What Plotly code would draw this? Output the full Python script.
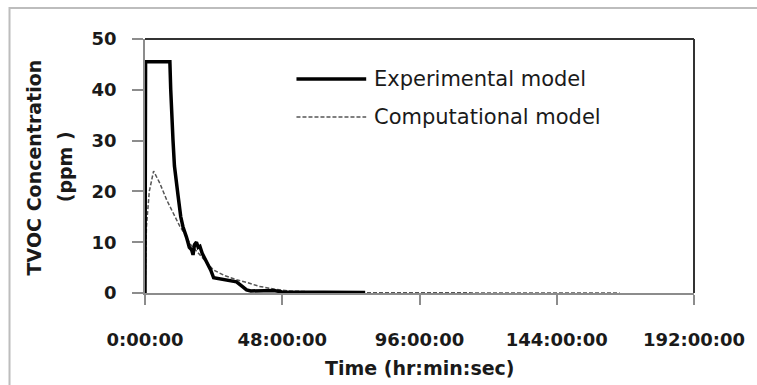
import plotly.graph_objects as go

# ---- data (time in hours, concentration in ppm) ----
exp_time = [0, 0.2, 4, 8.7, 9.0, 9.3, 9.8, 10.3, 11.0, 11.6, 12.5, 13.3, 14.5, 15.5, 16.3,
            16.8, 17.3, 18.0, 18.6, 19.2, 20.0, 21.5, 23.0, 24.0, 26.0, 28.0, 30.0, 32.0,
            34.0, 35.5, 37.0, 42.0, 45.0, 48.0, 55.0, 77.0]
exp_conc = [0, 45.5, 45.5, 45.5, 40, 35, 30, 25, 21, 19, 15, 13, 11, 9, 8.5,
            7.5, 9.5, 10, 9, 9.2, 7.8, 6.2, 4.5, 3.0, 2.8, 2.6, 2.3, 2.2,
            1.3, 0.6, 0.4, 0.4, 0.5, 0.2, 0.15, 0.1]

comp_time = [0, 0.5, 1.5, 3.0, 5.2, 7.6, 9.9, 12.2, 13.5, 16, 20, 24, 28, 32, 36, 40, 45,
             50, 60, 80, 120, 166]
comp_conc = [0, 13, 20, 24, 21.6, 18.3, 15.7, 13.1, 12, 9.5, 7, 4.5, 3.4, 2.6, 2.0, 1.3, 0.8,
             0.4, 0.2, 0.05, 0.02, 0]

x_tickvals = [0, 48, 96, 144, 192]
x_ticktext = ["0:00:00", "48:00:00", "96:00:00", "144:00:00", "192:00:00"]
y_tickvals = [0, 10, 20, 30, 40, 50]

series_names = ["Experimental model", "Computational model"]

FONT = "DejaVu Sans"
TXT = "#1a1a1a"
AX = "#8c8c8c"

fig = go.Figure()
fig.add_trace(go.Scatter(x=comp_time, y=comp_conc, mode="lines", name=series_names[1],
                         line=dict(color="#555555", width=1.5, dash="4px,2px")))
fig.add_trace(go.Scatter(x=exp_time, y=exp_conc, mode="lines", name=series_names[0],
                         line=dict(color="#000000", width=3.5)))

fig.update_layout(
    width=757, height=385,
    margin=dict(l=145, r=61, t=39, b=92),
    paper_bgcolor="white", plot_bgcolor="white",
    showlegend=False,
    xaxis=dict(range=[0, 192], tickvals=x_tickvals, ticktext=x_ticktext,
               showgrid=False, zeroline=False, showline=True, linecolor=AX, linewidth=1.5,
               ticks="outside", ticklen=10, tickcolor=AX, tickwidth=1.5,
               ticklabelstandoff=20,
               tickfont=dict(family=FONT, size=18, color=TXT, weight="bold")),
    yaxis=dict(range=[0, 50], tickvals=y_tickvals,
               showgrid=False, zeroline=False, showline=True, linecolor=AX, linewidth=1.5,
               ticks="outside", ticklen=11, tickcolor=AX, tickwidth=1.5,
               ticklabelstandoff=12,
               tickfont=dict(family=FONT, size=18, color=TXT, weight="bold")),
)

# plot-area top/right border (dark) and outer chart border (light gray)
fig.add_shape(type="line", xref="paper", yref="paper", x0=0, x1=1, y0=1, y1=1,
              line=dict(color="#333333", width=2))
fig.add_shape(type="line", xref="paper", yref="paper", x0=1, x1=1, y0=0, y1=1,
              line=dict(color="#333333", width=2))
fig.add_shape(type="rect", xref="paper", yref="paper", x0=-0.2468, x1=1.13, y0=-0.40, y1=1.122,
              line=dict(color="#bdbdbd", width=2), layer="below")

# legend (manual, to match long sample lines)
fig.add_shape(type="line", xref="paper", yref="paper", x0=0.2759, x1=0.4029, y0=0.8425, y1=0.8425,
              line=dict(color="#000000", width=3.5))
fig.add_shape(type="line", xref="paper", yref="paper", x0=0.2759, x1=0.4029, y0=0.693, y1=0.693,
              line=dict(color="#555555", width=1.5, dash="4px,2px"))
fig.add_annotation(xref="paper", yref="paper", x=0.4138, y=0.8425, text=series_names[0],
                   showarrow=False, xanchor="left", yanchor="middle",
                   font=dict(family=FONT, size=21, color=TXT))
fig.add_annotation(xref="paper", yref="paper", x=0.4138, y=0.693, text=series_names[1],
                   showarrow=False, xanchor="left", yanchor="middle",
                   font=dict(family=FONT, size=21, color=TXT))

# axis titles
fig.add_annotation(xref="paper", yref="paper", x=0.5, y=-0.295, text="Time (hr:min:sec)",
                   showarrow=False, xanchor="center", yanchor="middle",
                   font=dict(family=FONT, size=19, color=TXT, weight="bold"))
fig.add_annotation(xref="paper", yref="paper", x=-0.2015, y=0.496, text="TVOC Concentration",
                   showarrow=False, xanchor="center", yanchor="middle", textangle=-90,
                   font=dict(family=FONT, size=19, color=TXT, weight="bold"))
fig.add_annotation(xref="paper", yref="paper", x=-0.1452, y=0.496, text="(ppm )",
                   showarrow=False, xanchor="center", yanchor="middle", textangle=-90,
                   font=dict(family=FONT, size=19, color=TXT, weight="bold"))

fig.write_html("out.html")
